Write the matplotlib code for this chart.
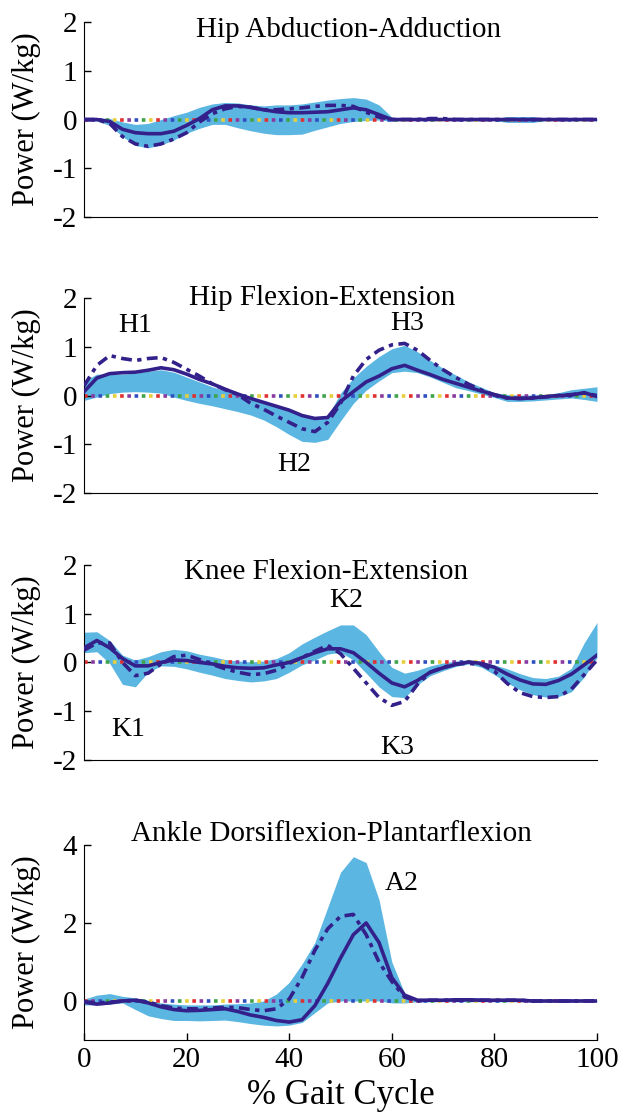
import numpy as np
import matplotlib
matplotlib.use("Agg")
import matplotlib.pyplot as plt

plt.rcParams['font.family'] = ['Liberation Serif', 'DejaVu Serif']
plt.rcParams['axes.unicode_minus'] = False

# % gait cycle sample points
gait = [0, 2.5, 5, 7.5, 10, 12.5, 15, 17.5, 20, 22.5, 25, 27.5, 30, 32.5, 35, 37.5, 40,
        42.5, 45, 47.5, 50, 52.5, 55, 57.5, 60, 62.5, 65, 67.5, 70, 72.5, 75, 77.5, 80,
        82.5, 85, 87.5, 90, 92.5, 95, 97.5, 100]

# Hip abduction-adduction (W/kg)
hip_abd_solid = [0.0, 0.0, -0.04, -0.2, -0.27, -0.29, -0.29, -0.24, -0.12, 0.02, 0.2, 0.28, 0.28,
                 0.25, 0.2, 0.16, 0.14, 0.14, 0.15, 0.16, 0.2, 0.24, 0.2, 0.1, 0.0, 0.0, 0.0, 0.0,
                 0.0, 0.0, 0.0, 0.0, 0.0, 0.0, 0.0, 0.0, 0.0, 0.0, 0.0, 0.0, 0.0]
hip_abd_dash = [0.0, 0.0, -0.08, -0.35, -0.5, -0.55, -0.5, -0.4, -0.27, -0.05, 0.12, 0.22, 0.27,
                0.25, 0.2, 0.2, 0.22, 0.24, 0.27, 0.29, 0.29, 0.27, 0.15, 0.05, 0.0, 0.0, 0.0,
                0.02, 0.02, 0.0, 0.0, 0.0, 0.0, 0.0, 0.0, 0.0, 0.0, 0.0, 0.0, 0.0, 0.0]
hip_abd_hi = [0.03, 0.03, 0.02, -0.05, -0.1, -0.08, 0.0, 0.08, 0.15, 0.25, 0.32, 0.35, 0.34, 0.3,
              0.28, 0.3, 0.3, 0.32, 0.36, 0.4, 0.43, 0.45, 0.42, 0.3, 0.05, 0.02, 0.02, 0.02,
              0.02, 0.02, 0.02, 0.02, 0.02, 0.06, 0.06, 0.06, 0.02, 0.02, 0.02, 0.02, 0.02]
hip_abd_lo = [-0.03, -0.03, -0.12, -0.35, -0.53, -0.58, -0.52, -0.42, -0.28, -0.18, -0.1, -0.1,
              -0.17, -0.23, -0.28, -0.31, -0.31, -0.3, -0.22, -0.15, -0.08, -0.04, -0.02, -0.01,
              -0.03, -0.02, -0.02, -0.02, -0.02, -0.02, -0.02, -0.02, -0.02, -0.06, -0.06, -0.06,
              -0.02, -0.02, -0.02, -0.02, -0.02]

# Hip flexion-extension
hip_flex_solid = [0.08, 0.36, 0.45, 0.47, 0.48, 0.52, 0.57, 0.53, 0.44, 0.33, 0.24, 0.13, 0.03,
                  -0.06, -0.14, -0.22, -0.3, -0.41, -0.47, -0.45, -0.12, 0.08, 0.28, 0.4, 0.55,
                  0.62, 0.52, 0.43, 0.33, 0.25, 0.17, 0.09, 0.02, -0.05, -0.06, -0.05, -0.02,
                  0.0, 0.01, 0.06, -0.02]
hip_flex_dash = [0.2, 0.62, 0.82, 0.76, 0.72, 0.76, 0.78, 0.68, 0.54, 0.4, 0.24, 0.12, 0.02,
                 -0.16, -0.28, -0.42, -0.55, -0.68, -0.74, -0.55, -0.16, 0.4, 0.74, 0.93, 1.04,
                 1.07, 0.93, 0.72, 0.53, 0.37, 0.23, 0.11, 0.01, -0.05, -0.06, -0.05, -0.03,
                 0.0, 0.02, 0.05, 0.0]
hip_flex_hi = [0.3, 0.44, 0.43, 0.44, 0.46, 0.5, 0.53, 0.48, 0.38, 0.28, 0.18, 0.1, 0.04, -0.05,
               -0.12, -0.2, -0.3, -0.42, -0.47, -0.42, 0.05, 0.36, 0.6, 0.8, 0.96, 1.03, 0.9,
               0.72, 0.56, 0.42, 0.28, 0.17, 0.06, 0.02, 0.01, 0.01, 0.02, 0.06, 0.12, 0.15, 0.18]
hip_flex_lo = [-0.1, -0.03, 0.04, 0.07, 0.08, 0.07, 0.05, -0.03, -0.1, -0.16, -0.21, -0.27,
               -0.33, -0.4, -0.5, -0.64, -0.8, -0.94, -0.96, -0.9, -0.52, -0.16, 0.11, 0.3,
               0.47, 0.5, 0.47, 0.38, 0.27, 0.16, 0.1, 0.03, -0.04, -0.12, -0.12, -0.11, -0.09,
               -0.07, -0.05, -0.08, -0.12]

# Knee flexion-extension
knee_solid = [0.3, 0.45, 0.3, 0.08, -0.07, -0.07, 0.0, 0.05, 0.04, 0.0, -0.03, -0.08, -0.11,
              -0.12, -0.11, -0.05, 0.0, 0.1, 0.2, 0.28, 0.28, 0.2, 0.0, -0.22, -0.42, -0.5,
              -0.37, -0.2, -0.11, -0.04, 0.01, -0.02, -0.1, -0.24, -0.36, -0.44, -0.45, -0.37,
              -0.24, -0.05, 0.15]
knee_dash = [0.25, 0.4, 0.4, 0.0, -0.27, -0.22, -0.03, 0.12, 0.15, 0.06, -0.04, -0.13, -0.2,
             -0.25, -0.23, -0.16, -0.02, 0.1, 0.23, 0.35, 0.18, -0.12, -0.42, -0.72, -0.88,
             -0.8, -0.45, -0.2, -0.1, -0.03, -0.02, -0.04, -0.18, -0.43, -0.62, -0.7, -0.72,
             -0.7, -0.55, -0.25, 0.05]
knee_hi = [0.62, 0.63, 0.45, 0.15, 0.05, 0.12, 0.22, 0.27, 0.24, 0.17, 0.12, 0.06, 0.03, 0.01,
           0.03, 0.08, 0.2, 0.38, 0.52, 0.65, 0.77, 0.77, 0.57, 0.22, -0.1, -0.22, -0.16, -0.07,
           -0.01, 0.03, 0.05, 0.02, -0.05, -0.13, -0.23, -0.31, -0.33, -0.28, -0.12, 0.4, 0.82]
knee_lo = [0.2, 0.22, -0.02, -0.45, -0.5, -0.2, -0.07, -0.08, -0.13, -0.2, -0.26, -0.33, -0.37,
           -0.4, -0.38, -0.33, -0.2, -0.05, 0.05, 0.17, 0.21, 0.05, -0.22, -0.5, -0.7, -0.72,
           -0.46, -0.27, -0.17, -0.08, -0.03, -0.1, -0.25, -0.42, -0.56, -0.66, -0.71, -0.7,
           -0.6, -0.3, 0.1]

# Ankle dorsiflexion-plantarflexion
ankle_solid = [-0.03, -0.08, -0.05, 0.0, 0.02, -0.05, -0.15, -0.22, -0.25, -0.24, -0.22, -0.2,
               -0.27, -0.36, -0.42, -0.5, -0.54, -0.48, -0.12, 0.45, 1.1, 1.7, 2.0, 1.5, 0.6,
               0.15, 0.02, 0.02, 0.02, 0.03, 0.03, 0.02, 0.02, 0.02, 0.02, 0.0, 0.0, 0.0, 0.0,
               0.0, 0.0]
ankle_dash = [-0.02, -0.05, -0.03, 0.0, 0.02, -0.03, -0.12, -0.18, -0.2, -0.2, -0.18, -0.16,
              -0.17, -0.22, -0.25, -0.2, 0.05, 0.6, 1.3, 1.85, 2.17, 2.22, 1.7, 1.0, 0.5, 0.1,
              0.0, 0.02, 0.02, 0.02, 0.02, 0.02, 0.02, 0.02, 0.02, 0.0, 0.0, 0.0, 0.0, 0.0, 0.0]
ankle_hi = [0.05, 0.15, 0.19, 0.12, 0.08, 0.02, -0.05, -0.08, -0.1, -0.1, -0.1, -0.08, -0.07,
            -0.05, 0.0, 0.18, 0.48, 0.95, 1.5, 2.4, 3.3, 3.7, 3.55, 2.6, 1.0, 0.2, 0.03, 0.03,
            0.06, 0.08, 0.08, 0.08, 0.03, 0.02, 0.02, 0.02, 0.02, 0.02, 0.02, 0.02, 0.02]
ankle_lo = [-0.1, -0.1, -0.08, -0.05, -0.22, -0.38, -0.45, -0.5, -0.5, -0.51, -0.5, -0.49,
            -0.53, -0.58, -0.62, -0.64, -0.62, -0.55, -0.3, -0.05, 0.0, 0.0, 0.0, 0.0, -0.05,
            -0.05, -0.02, -0.02, -0.02, -0.02, -0.02, -0.02, -0.02, -0.02, -0.02, -0.02,
            -0.02, -0.02, -0.02, -0.02, -0.02]

titles = ['Hip Abduction-Adduction', 'Hip Flexion-Extension', 'Knee Flexion-Extension',
          'Ankle Dorsiflexion-Plantarflexion']
title_pos = [(51.5, 1.84), (46.4, 2.0), (47.2, 1.85), (48.3, 4.28)]
peak_labels = [[], [('H1', 10, 1.44), ('H2', 41, -1.42), ('H3', 63, 1.48)],
               [('K1', 8.6, -1.38), ('K2', 51, 1.28), ('K3', 61, -1.75)],
               [('A2', 62, 3.0)]]

panels = [
    (hip_abd_solid, hip_abd_dash, hip_abd_hi, hip_abd_lo),
    (hip_flex_solid, hip_flex_dash, hip_flex_hi, hip_flex_lo),
    (knee_solid, knee_dash, knee_hi, knee_lo),
    (ankle_solid, ankle_dash, ankle_hi, ankle_lo),
]

band_color = '#5cb6e2'
line_color = '#33208a'
zero_colors = ['#e03030', '#e6cf3a', '#3fa34a', '#2f4fc0', '#8a3aa0']

fig = plt.figure(figsize=(6.18, 11.13), dpi=100)
bottoms = [0.805, 0.557, 0.3172, 0.0656]

for i, (solid, dash, hi, lo) in enumerate(panels):
    ax = fig.add_axes([0.136, bottoms[i], 0.830, 0.1752])
    ax.fill_between(gait, lo, hi, color=band_color, lw=0, zorder=1)
    for k, c in enumerate(zero_colors):
        ax.plot([0, 100], [0, 0], color=c, lw=2.6, linestyle=(k * 2.0, (1.0, 9.0)), zorder=2)
    ax.plot(gait, solid, color=line_color, lw=2.6, zorder=3)
    ax.plot(gait, dash, color=line_color, lw=2.6, linestyle=(0, (3, 1.5, 1.2, 1.5)), zorder=4)

    ax.set_xlim(0, 100)
    if i < 3:
        ax.set_ylim(-2, 2)
        ax.set_yticks([-2, -1, 0, 1, 2])
        ax.set_xticks([])
    else:
        ax.set_ylim(-1, 4)
        ax.set_yticks([0, 2, 4])
        ax.set_xticks([0, 20, 40, 60, 80, 100])
    ax.spines['top'].set_visible(False)
    ax.spines['right'].set_visible(False)
    ax.tick_params(direction='in', length=5, width=1, labelsize=21, pad=5)
    ax.set_ylabel('Power (W/kg)', fontsize=22)
    ax.yaxis.set_label_coords(-0.083, 0.5)

    tx, ty = title_pos[i]
    ax.text(tx, ty, titles[i], fontsize=21, ha='center', va='center', clip_on=False)
    for lab, lx, ly in peak_labels[i]:
        ax.text(lx, ly, lab, fontsize=20, ha='center', va='center')

fig.text(0.551, 0.016, '% Gait Cycle', fontsize=25, ha='center', va='center')

fig.savefig('out.png', dpi=100)
